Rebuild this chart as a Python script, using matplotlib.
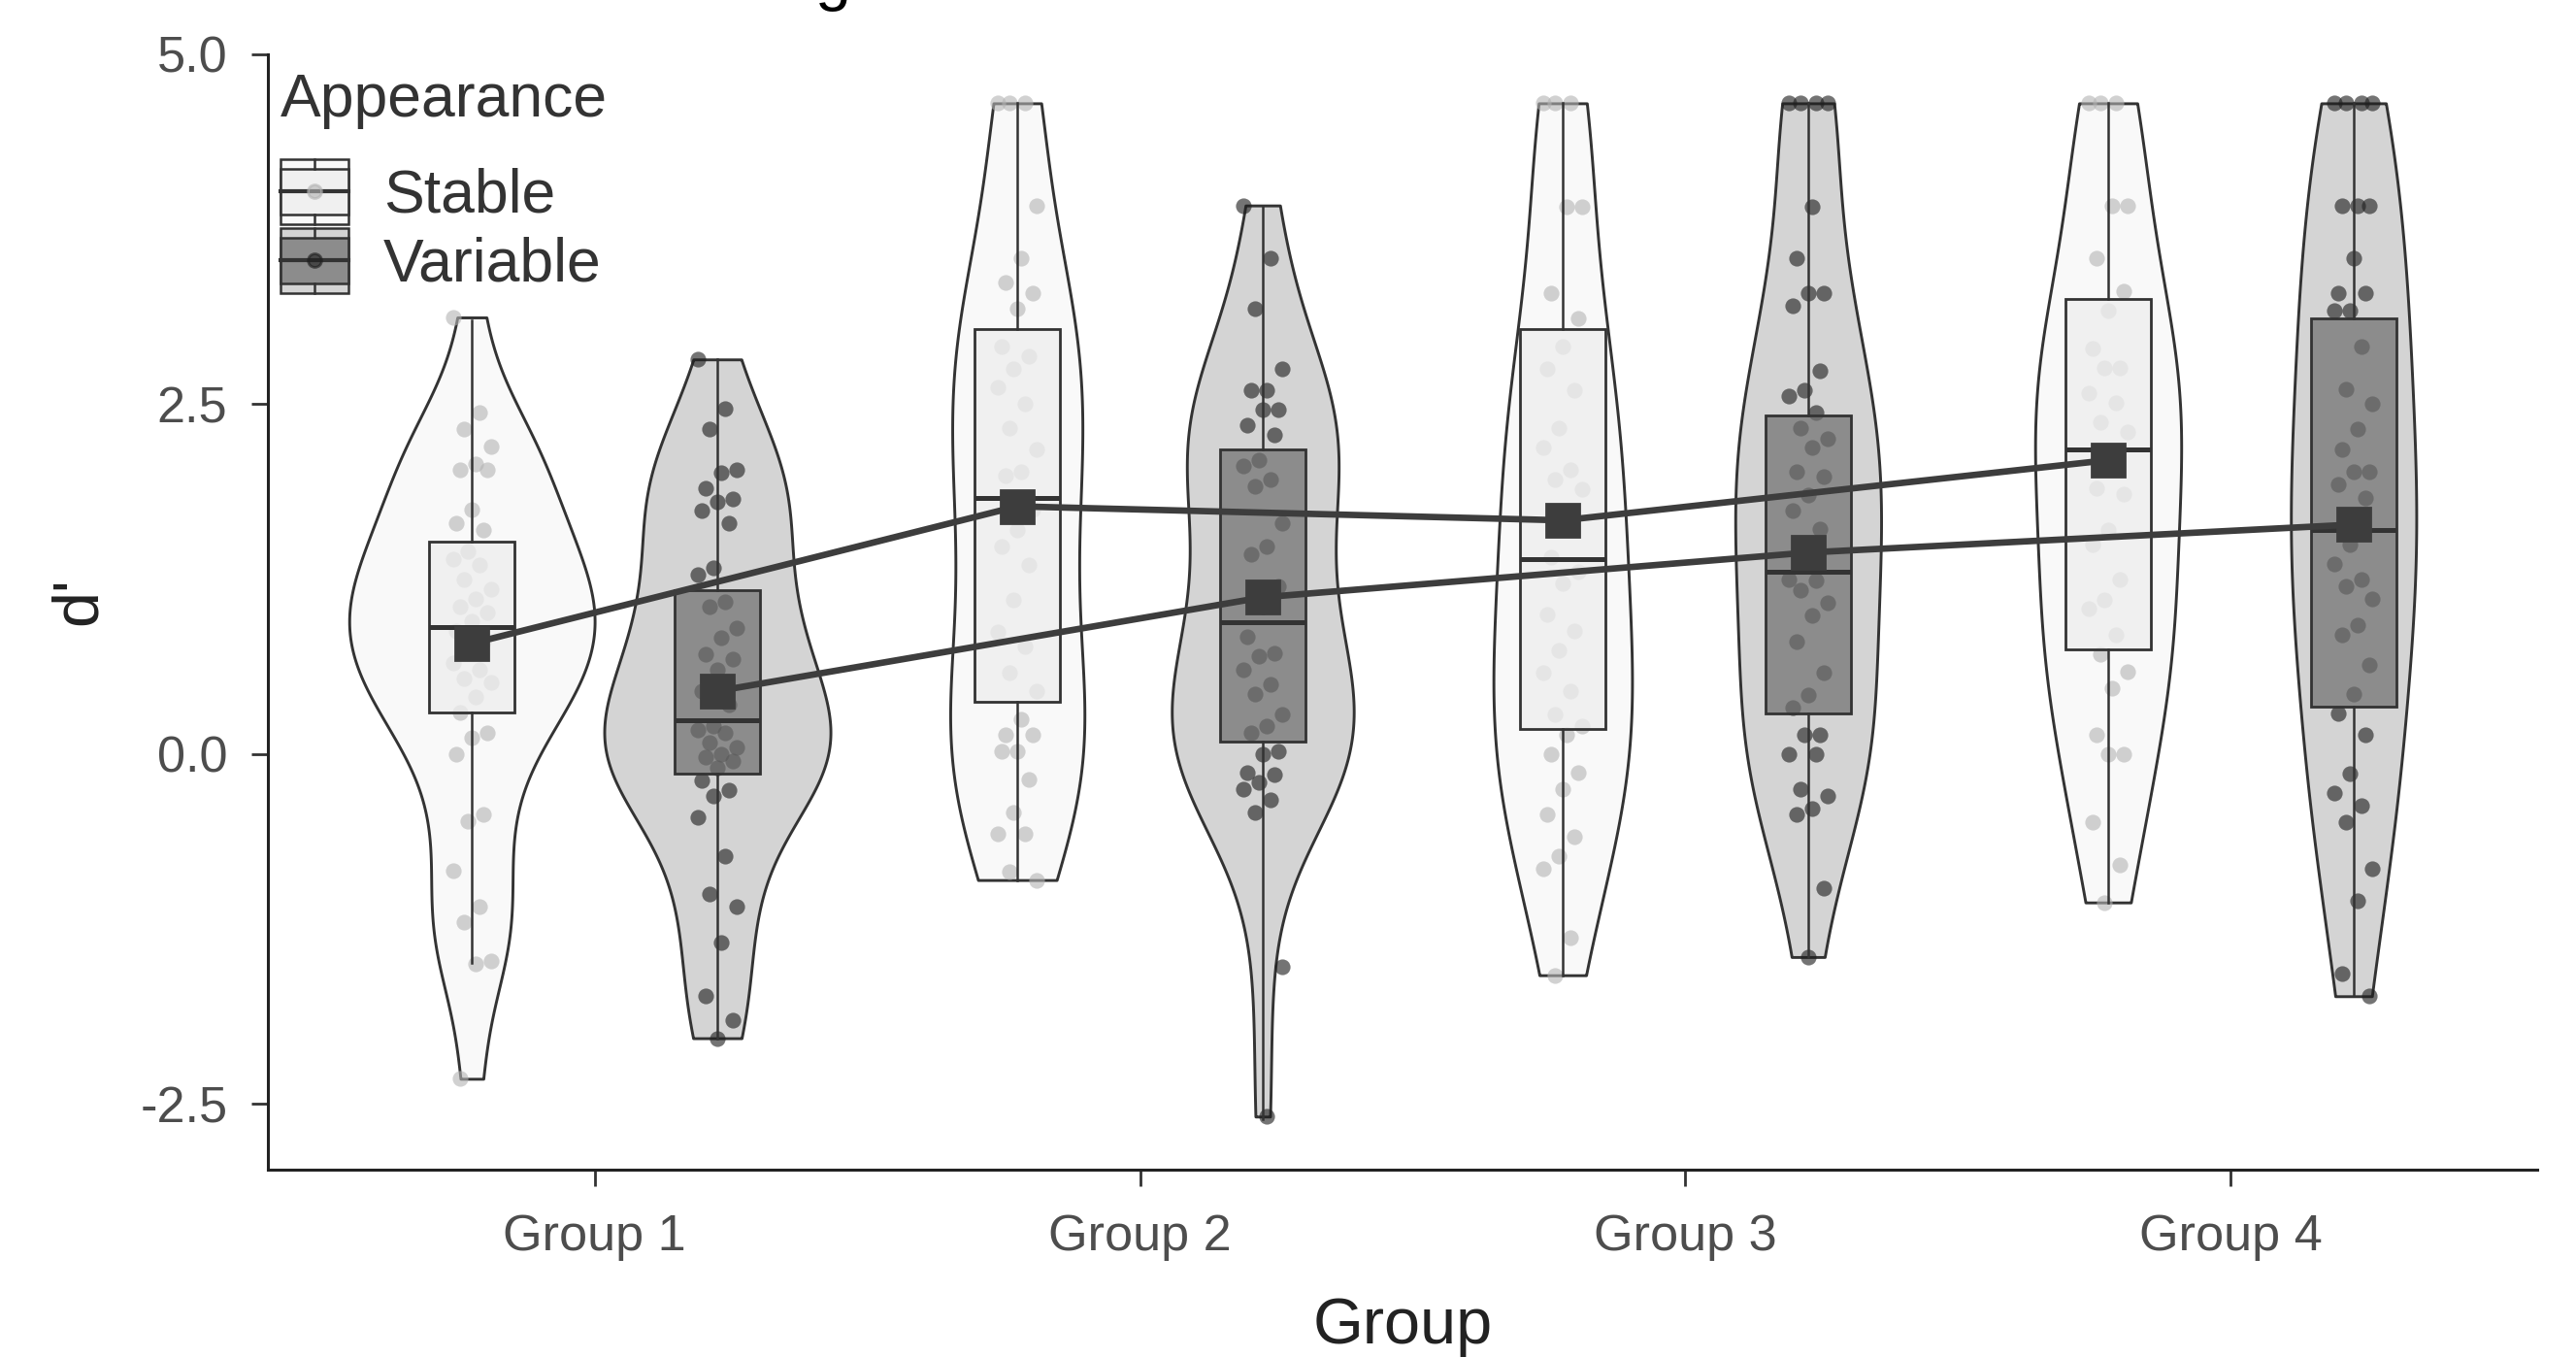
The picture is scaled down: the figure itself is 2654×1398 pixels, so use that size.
import numpy as np
import matplotlib
matplotlib.use("Agg")
import matplotlib.pyplot as plt
from matplotlib.patches import Rectangle, Patch
from matplotlib.lines import Line2D
from matplotlib.legend_handler import HandlerBase

plt.rcParams['font.family'] = ['Liberation Sans', 'DejaVu Sans']

groups = ['Group 1', 'Group 2', 'Group 3', 'Group 4']
appearances = ['Stable', 'Variable']

# individual d' scores
stable_g1 = [3.12, 2.44, 2.32, 2.20, 2.07, 2.03, 2.03, 1.75, 1.65, 1.60,
             1.45, 1.39, 1.35, 1.25, 1.18, 1.11, 1.05, 1.01, 0.95,
             0.88, 0.80, 0.72, 0.65, 0.60, 0.54, 0.51, 0.41, 0.30,
             0.15, 0.12, 0.00, -0.43, -0.48, -0.83, -1.09, -1.20, -1.48, -1.50, -2.32]
variable_g1 = [2.82, 2.47, 2.32, 2.03, 2.01, 1.90, 1.82, 1.80, 1.74, 1.65, 1.33, 1.28,
               1.09, 1.05, 0.90, 0.83, 0.71, 0.68, 0.60, 0.45, 0.35,
               0.20, 0.17, 0.15, 0.08, 0.05, 0.00, -0.02, -0.05, -0.10,
               -0.19, -0.26, -0.30, -0.45, -0.73, -1.00, -1.09, -1.35, -1.73, -1.90, -2.03]
stable_g2 = [4.65, 4.65, 4.65, 3.92, 3.54, 3.37, 3.29, 3.18,
             2.91, 2.84, 2.75, 2.62, 2.50, 2.33, 2.18, 2.02, 1.99,
             1.75, 1.60, 1.48, 1.35, 1.10, 0.87, 0.77, 0.58, 0.45,
             0.25, 0.14, 0.14, 0.02, 0.02, -0.18, -0.42, -0.57, -0.57, -0.84, -0.90]
variable_g2 = [3.92, 3.54, 3.18, 2.75, 2.60, 2.60, 2.46, 2.46, 2.35, 2.28,
               2.10, 2.06, 1.96, 1.91, 1.65, 1.48, 1.43, 1.20, 1.05,
               0.84, 0.72, 0.70, 0.60, 0.50, 0.43, 0.28, 0.20, 0.15,
               0.02, 0.00, -0.13, -0.15, -0.20, -0.25, -0.33, -0.42, -1.52, -2.59]
stable_g3 = [4.65, 4.65, 4.65, 3.91, 3.91, 3.29, 3.11,
             2.91, 2.75, 2.60, 2.33, 2.19, 2.03, 1.96, 1.89, 1.66, 1.41,
             1.30, 1.22, 1.00, 0.88, 0.74, 0.58, 0.45, 0.28, 0.20,
             0.14, 0.00, -0.13, -0.25, -0.43, -0.59, -0.73, -0.82, -1.31, -1.58]
variable_g3 = [4.65, 4.65, 4.65, 4.65, 3.91, 3.54, 3.29, 3.29, 3.20, 2.74, 2.60, 2.56, 2.44,
               2.33, 2.25, 2.19, 2.02, 1.98, 1.85, 1.74, 1.61, 1.40,
               1.25, 1.24, 1.17, 1.08, 0.99, 0.80, 0.58, 0.42, 0.33,
               0.14, 0.14, 0.00, 0.00, -0.25, -0.30, -0.39, -0.43, -0.96, -1.45]
stable_g4 = [4.65, 4.65, 4.65, 3.92, 3.92, 3.54, 3.31,
             3.17, 2.90, 2.76, 2.76, 2.58, 2.51, 2.37, 2.30,
             2.04, 1.90, 1.86, 1.60, 1.50, 1.25, 1.10, 1.04, 0.85,
             0.71, 0.59, 0.47, 0.14, 0.00, 0.00, -0.49, -0.79, -1.06]
variable_g4 = [4.65, 4.65, 4.65, 4.65, 3.92, 3.92, 3.92, 3.54, 3.29, 3.29, 3.17, 3.17,
               2.91, 2.61, 2.50, 2.32, 2.18, 2.02, 2.02, 1.93, 1.83,
               1.50, 1.36, 1.25, 1.20, 1.11, 0.92, 0.85, 0.64, 0.43,
               0.29, 0.14, -0.14, -0.28, -0.37, -0.49, -0.82, -1.05, -1.57, -1.73]

scores = {'Stable': [stable_g1, stable_g2, stable_g3, stable_g4],
          'Variable': [variable_g1, variable_g2, variable_g3, variable_g4]}

# box statistics as drawn (Q1, median, Q3, whisker ends)
box_q1 = {'Stable': [0.30, 0.37, 0.18, 0.75], 'Variable': [-0.14, 0.09, 0.29, 0.34]}
box_med = {'Stable': [0.91, 1.83, 1.39, 2.18], 'Variable': [0.24, 0.94, 1.30, 1.60]}
box_q3 = {'Stable': [1.52, 3.04, 3.04, 3.25], 'Variable': [1.17, 2.18, 2.42, 3.11]}
whisker_lo = {'Stable': [-1.49, -0.90, -1.58, -1.06], 'Variable': [-2.03, -2.61, -1.45, -1.73]}
whisker_hi = {'Stable': [3.10, 4.65, 4.65, 4.65], 'Variable': [2.82, 3.92, 4.65, 4.65]}

# group means (square markers)
mean_dprime = {'Stable': [0.79, 1.77, 1.67, 2.10], 'Variable': [0.45, 1.12, 1.44, 1.64]}

violin_fill = {'Stable': '#f9f9f9', 'Variable': '#d4d4d4'}
box_fill = {'Stable': (0.93, 0.93, 0.93, 0.75), 'Variable': (0.44, 0.44, 0.44, 0.72)}
point_col = {'Stable': (0.70, 0.70, 0.70, 0.6), 'Variable': (0.12, 0.12, 0.12, 0.62)}
edge = '#333333'
dodge = {'Stable': -0.225, 'Variable': 0.225}


def nrd0(x):
    x = np.asarray(x)
    sd = np.std(x, ddof=1)
    q75, q25 = np.percentile(x, [75, 25])
    lo = min(sd, (q75 - q25) / 1.34)
    return 0.9 * lo * len(x) ** -0.2


def kde(x):
    x = np.asarray(x)
    bw = nrd0(x)
    grid = np.linspace(x.min(), x.max(), 512)
    d = np.exp(-0.5 * ((grid[:, None] - x[None, :]) / bw) ** 2).sum(axis=1)
    d /= len(x) * bw * np.sqrt(2 * np.pi)
    return grid, d


fig = plt.figure(figsize=(13.27, 6.99), dpi=200)
ax = fig.add_axes([0.104, 0.138, 0.881, 0.822])

xpos = np.arange(1, len(groups) + 1)

dens = {a: [kde(v) for v in scores[a]] for a in appearances}
dmax = max(d.max() for a in appearances for _, d in dens[a])

for a in appearances:
    for i, (grid, d) in enumerate(dens[a]):
        c = xpos[i] + dodge[a]
        half = d / dmax * 0.225
        ax.fill_betweenx(grid, c - half, c + half, facecolor=violin_fill[a],
                         edgecolor=edge, linewidth=1.05, zorder=1)

# jittered points (deterministic spread)
for a in appearances:
    for i, vals in enumerate(scores[a]):
        n = len(vals)
        jit = ((np.arange(n) * 7) % 11 - 5) / 5 * 0.035
        ax.scatter(xpos[i] + dodge[a] + jit, vals, s=34, color=point_col[a],
                   linewidths=0, zorder=2)

for a in appearances:
    stats = []
    for i in range(len(groups)):
        stats.append(dict(q1=box_q1[a][i], med=box_med[a][i], q3=box_q3[a][i],
                          whislo=whisker_lo[a][i], whishi=whisker_hi[a][i], fliers=[]))
    ax.bxp(stats, positions=xpos + dodge[a], widths=0.156, patch_artist=True,
           showcaps=False, showfliers=False, manage_ticks=False,
           boxprops=dict(facecolor=box_fill[a], edgecolor=edge, linewidth=1.0),
           whiskerprops=dict(color=edge, linewidth=0.9),
           medianprops=dict(color=edge, linewidth=1.8), zorder=3)

for a in appearances:
    ax.plot(xpos + dodge[a], mean_dprime[a], color='#3d3d3d', linewidth=2.4,
            marker='s', markersize=12, zorder=5)

ax.set_xlim(0.401, 4.562)
ax.set_ylim(-2.97, 5.0)
ax.set_xticks(xpos)
ax.set_xticklabels(groups)
ytick_vals = [-2.5, 0.0, 2.5, 5.0]
ax.set_yticks(ytick_vals)
ax.set_yticklabels(['-2.5', '0.0', '2.5', '5.0'])
ax.tick_params(axis='both', colors='#333333', labelcolor='#4d4d4d', labelsize=18.8,
               length=6, width=1.0)
ax.tick_params(axis='y', pad=9)
ax.tick_params(axis='x', pad=10)
for s in ['top', 'right']:
    ax.spines[s].set_visible(False)
for s in ['left', 'bottom']:
    ax.spines[s].set_color('#222222')
    ax.spines[s].set_linewidth(1.1)

ax.set_xlabel('Group', fontsize=24, color='#222222')
ax.set_ylabel("d'", fontsize=24, color='#222222')
ax.xaxis.label.set_va('center')
ax.xaxis.set_label_coords(0.5, -0.141)
ax.yaxis.label.set_va('center')
ax.yaxis.set_label_coords(-0.083, 0.51)


class ViolinBoxHandler(HandlerBase):
    def __init__(self, vfc, bfc, pc):
        super().__init__()
        self.vfc, self.bfc, self.pc = vfc, bfc, pc

    def create_artists(self, legend, orig_handle, xdescent, ydescent, width, height,
                       fontsize, trans):
        x0, y0 = -xdescent, -ydescent
        xm = x0 + width / 2
        arts = [
            Rectangle((x0, y0), width, height, facecolor=self.vfc, edgecolor=edge,
                      linewidth=0.9, transform=trans),
            Rectangle((x0, y0 + 0.15 * height), width, 0.7 * height, facecolor=self.bfc,
                      edgecolor=edge, linewidth=0.9, transform=trans),
            Line2D([xm, xm], [y0 + 0.85 * height, y0 + height], color=edge, lw=0.9, transform=trans),
            Line2D([xm, xm], [y0, y0 + 0.15 * height], color=edge, lw=0.9, transform=trans),
            Line2D([x0, x0 + width], [y0 + height / 2] * 2, color=edge, lw=1.5, transform=trans),
            Line2D([xm], [y0 + height / 2], marker='o', markersize=5, color=self.pc,
                   linestyle='none', transform=trans),
        ]
        return arts


handles = [Patch(), Patch()]
hmap = {handles[0]: ViolinBoxHandler(violin_fill['Stable'], box_fill['Stable'], point_col['Stable']),
        handles[1]: ViolinBoxHandler(violin_fill['Variable'], box_fill['Variable'], point_col['Variable'])}
leg = ax.legend(handles, appearances, handler_map=hmap, title='Appearance', loc='upper left',
                bbox_to_anchor=(0.0, 0.995), frameon=False, fontsize=22.5, title_fontsize=22.5,
                handlelength=1.12, handleheight=1.27, handletextpad=0.58, labelspacing=0.06,
                borderaxespad=0.0, borderpad=0.2, alignment='left')
leg._legend_box.sep = 11
for t in leg.get_texts():
    t.set_color('#333333')
leg.get_title().set_color('#333333')

# top edge of the cropped title
fig.text(858 / 2654, 1.0 + 2 / 1398, 'g', ha='center', va='baseline', fontsize=24)

fig.savefig('out.png', dpi=200)
